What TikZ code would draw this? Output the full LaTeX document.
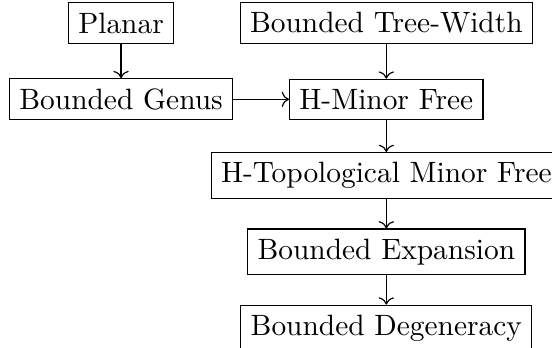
\documentclass[tikz,border=0pt]{standalone}
\usetikzlibrary{positioning, arrows.meta}

\begin{document}
\begin{tikzpicture}[
                auto,
                class/.style={draw, rectangle, align=center},
            ]
                \useasboundingbox (-1.447,0.275) rectangle (5.15,-3.873);

                % Draw the two top classes
                \node[class] (planar) at (0,0) {Planar};
                \node[class] (treewidth) at (3.17,0) {Bounded Tree-Width};

                % Draw the second row
                \node[class] (genus) at (0,-0.912) {Bounded Genus};
                \node[class] (hminor) at (3.17,-0.912) {H-Minor Free};

                % Draw the chain below
                \node[class] (htopminor) at (3.17,-1.824) {H-Topological Minor Free};
                \node[class] (expansion) at (3.17,-2.736) {Bounded Expansion};
                \node[class] (degeneracy) at (3.17,-3.648) {Bounded Degeneracy};

                % Connect each class to the one that contains it
                \foreach \source / \dest in {planar/genus, treewidth/hminor, hminor/htopminor, htopminor/expansion, expansion/degeneracy}
                    \draw[->] (\source) -- (\dest);
                \draw[->] (genus) -- (hminor);
            \end{tikzpicture}
\end{document}
